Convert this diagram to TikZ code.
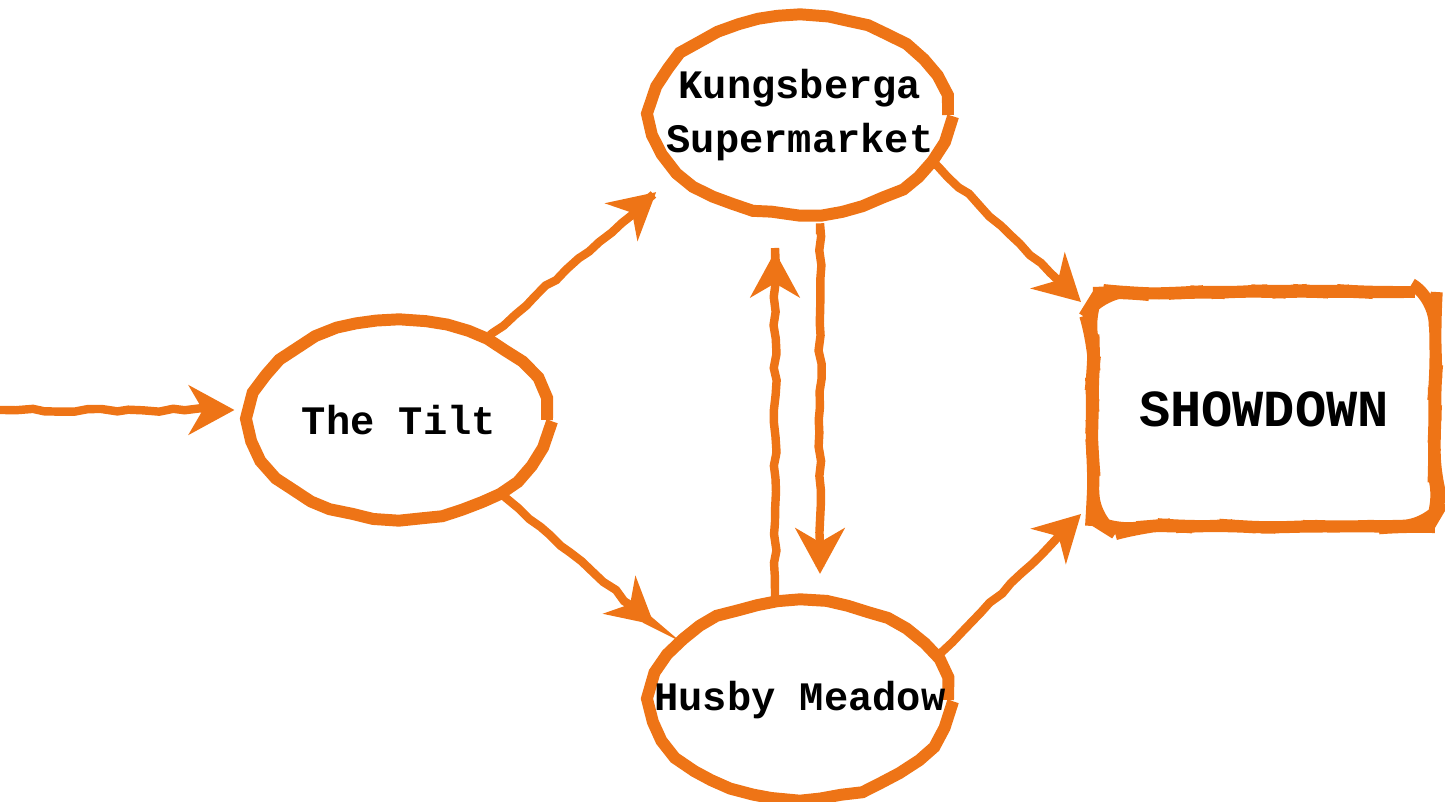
\documentclass[tikz,border=0pt]{standalone}
\usepackage{fontspec}
\setmonofont{Liberation Mono}
\usetikzlibrary{arrows.meta,decorations.pathmorphing,shapes.geometric}
\definecolor{chalkorange}{RGB}{238,116,22}

\begin{document}
\begin{tikzpicture}[x=1cm,y=1cm,
  every node/.style={font=\ttfamily\bfseries\fontsize{11.5}{15.5}\selectfont, align=center},
  rough/.style={draw=chalkorange, line width=3.4pt, decorate,
    decoration={random steps,segment length=6pt,amplitude=0.45pt}},
  spot/.style={ellipse, rough, inner xsep=-0.45cm, inner ysep=0pt, minimum width=2.96cm, minimum height=1.98cm},
  goal/.style={rectangle, rough, rounded corners=8pt, inner sep=0pt, minimum width=3.42cm, minimum height=2.34cm},
  link/.style={chalkorange, line width=2.4pt, -{Stealth[length=13pt,width=14pt,inset=4pt]},
    decorate, decoration={random steps,segment length=4pt,amplitude=0.5pt,pre length=1pt,post length=8pt}}]
  \useasboundingbox (0,0) rectangle (14.45,8.02);
  \node[spot] (kungs) at (8.00,6.87) {Kungsberga\\Supermarket};
  \node[spot] (tilt) at (3.99,3.82) {The Tilt};
  \node[spot] (husby) at (8.00,1.02) {Husby Meadow};
  \node[goal,font=\ttfamily\bfseries\fontsize{14.8}{18}\selectfont] (showdown) at (12.64,3.93) {SHOWDOWN};
  \coordinate (start) at (0,3.92);
  \draw[link,shorten >=3pt] (start) -- (tilt.west |- start);
  \draw[link,shorten >=7pt] (tilt.43) -- (kungs.206);
  \draw[link,shorten >=7pt] (tilt.-36) -- (husby.155);
  \draw[link] (kungs.-20) -- ([shift={(-0.06,-0.16)}]showdown.north west);
  \draw[link] (husby.18) -- ([shift={(-0.06,0.18)}]showdown.south west);
  \draw[link,shorten <=-2pt,shorten >=9pt] ([xshift=-0.25cm]husby.north) -- ([xshift=-0.25cm]kungs.south);
  \draw[link,shorten <=4pt,shorten >=6pt] ([xshift=0.2cm]kungs.south) -- ([xshift=0.2cm]husby.north);
\end{tikzpicture}
\end{document}
